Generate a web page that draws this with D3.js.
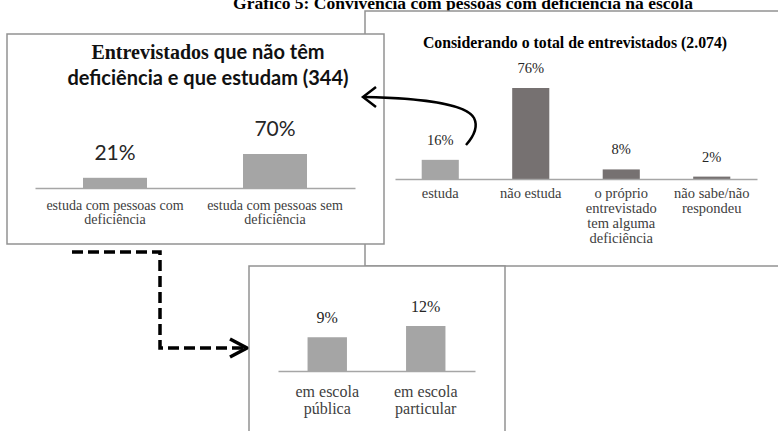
<!DOCTYPE html>
<html>
<head>
<meta charset="utf-8">
<script src="https://cdn.jsdelivr.net/npm/d3@7"></script>
<style>
  body { margin: 0; background: #fff; }
  svg { display: block; }
</style>
</head>
<body>
<script>
// data
var mainLabels = [["estuda"], ["não estuda"], ["o próprio", "entrevistado", "tem alguma", "deficiência"], ["não sabe/não", "respondeu"]];
var mainValues = [16, 76, 8, 2];
var mainColors = ["#a5a5a5", "#767171", "#767171", "#767171"];

var leftLabels = [["estuda com pessoas com", "deficiência"], ["estuda com pessoas sem", "deficiência"]];
var leftValues = [21, 70];

var bottomLabels = [["em escola", "pública"], ["em escola", "particular"]];
var bottomValues = [9, 12];

var width = 778, height = 431;
var serif = "'Liberation Serif', 'DejaVu Serif', serif";
var sans = "Lato, 'Open Sans', sans-serif";
var boxStroke = "#929292";

var svg = d3.select("body").append("svg")
    .attr("width", width)
    .attr("height", height);

// main title, cut at the top of the picture like in the reference
svg.append("text")
    .attr("x", 463).attr("y", 9)
    .attr("text-anchor", "middle")
    .style("font-family", serif).style("font-weight", "bold").style("font-size", "17.5px")
    .text("Gráfico 5: Convivência com pessoas com deficiência na escola");

// panels (big one behind, the others on top)
svg.append("rect").attr("x", 365).attr("y", 11).attr("width", 440).attr("height", 255)
    .attr("fill", "#fff").attr("stroke", boxStroke).attr("stroke-width", 1.5);

// draws a small bar chart: one category axis, bars and value labels
function barChart(g, labels, values, colors, opt) {
    var x = d3.scaleBand()
        .domain(d3.range(values.length))
        .range([opt.x0, opt.x1])
        .paddingInner(opt.pad).paddingOuter(opt.pad / 2);
    var y = d3.scaleLinear()
        .domain([0, opt.maxV])
        .range([opt.base, opt.base - opt.maxH]);

    g.selectAll("rect.bar").data(values).enter()
        .append("rect").attr("class", "bar")
        .attr("x", function(d, i) { return x(i); })
        .attr("y", function(d) { return y(d); })
        .attr("width", x.bandwidth())
        .attr("height", function(d) { return opt.base - y(d); })
        .attr("fill", function(d, i) { return colors[i]; });

    g.selectAll("text.val").data(values).enter()
        .append("text").attr("class", "val")
        .attr("x", function(d, i) { return x(i) + x.bandwidth() / 2; })
        .attr("y", function(d) { return y(d) - opt.valGap; })
        .attr("text-anchor", "middle")
        .style("font-family", opt.valFont).style("font-size", opt.valSize + "px")
        .attr("fill", "#262626")
        .text(function(d) { return d + "%"; });

    var axis = d3.axisBottom(x).tickSize(0).tickSizeOuter(0).tickFormat("");
    var ag = g.append("g").attr("transform", "translate(0," + opt.base + ")").call(axis);
    ag.select(".domain").attr("stroke", "#a6a6a6").attr("stroke-width", 1.5);
    ag.selectAll(".tick text").each(function(d) {
        var t = d3.select(this)
            .attr("y", opt.labOff).attr("dy", null)
            .attr("fill", "#404040")
            .style("font-family", serif).style("font-size", opt.labSize + "px");
        labels[d].forEach(function(line, k) {
            t.append("tspan").attr("x", 0).attr("dy", k ? opt.lineH : 0).text(line);
        });
    });
}

var gMain = svg.append("g");
gMain.append("text")
    .attr("x", 575).attr("y", 48).attr("text-anchor", "middle")
    .style("font-family", serif).style("font-weight", "bold").style("font-size", "15.8px")
    .text("Considerando o total de entrevistados (2.074)");
barChart(gMain, mainLabels, mainValues, mainColors, {
    x0: 395, x1: 757, pad: 0.59, base: 179, maxV: 76, maxH: 91,
    valGap: 15, valFont: serif, valSize: 14.5, labOff: 19, lineH: 15, labSize: 14.5
});

// left box
svg.append("rect").attr("x", 7).attr("y", 34).attr("width", 377).attr("height", 210)
    .attr("fill", "#fff").attr("stroke", boxStroke).attr("stroke-width", 1.5);
var gLeft = svg.append("g");
var t1 = gLeft.append("text").attr("x", 208).attr("y", 59).attr("text-anchor", "middle")
    .style("font-weight", "bold").style("font-size", "20px").attr("fill", "#111");
t1.append("tspan").style("font-family", serif).text("Entrevistados ");
t1.append("tspan").style("font-family", sans).text("que não têm");
gLeft.append("text").attr("x", 208).attr("y", 85).attr("text-anchor", "middle")
    .style("font-family", sans).style("font-weight", "bold").style("font-size", "20px")
    .attr("fill", "#111")
    .text("deficiência e que estudam (344)");
barChart(gLeft, leftLabels, leftValues, ["#a5a5a5", "#a5a5a5"], {
    x0: 35, x1: 355, pad: 0.6, base: 188, maxV: 70, maxH: 34,
    valGap: 18, valFont: sans, valSize: 21, labOff: 22, lineH: 14, labSize: 14
});

// curved arrow from "estuda" into the left box
svg.append("path")
    .attr("d", "M466,145 C474,136 478,126 474,118 C466,104 420,98 364,97")
    .attr("fill", "none").attr("stroke", "#000").attr("stroke-width", 2.5);
svg.append("path")
    .attr("d", "M376,87 L363,97 L376,107")
    .attr("fill", "none").attr("stroke", "#000").attr("stroke-width", 2.5);

// dashed arrow down to the bottom box
svg.append("path")
    .attr("d", "M72,252 H160 V348 H244")
    .attr("fill", "none").attr("stroke", "#000").attr("stroke-width", 3.5)
    .attr("stroke-dasharray", "11,5");
svg.append("path")
    .attr("d", "M230,339 L247,348 L230,357")
    .attr("fill", "none").attr("stroke", "#000").attr("stroke-width", 3.5);

// bottom box
svg.append("rect").attr("x", 249).attr("y", 266).attr("width", 256).attr("height", 200)
    .attr("fill", "#fff").attr("stroke", boxStroke).attr("stroke-width", 1.5);
var gBottom = svg.append("g");
barChart(gBottom, bottomLabels, bottomValues, ["#a5a5a5", "#a5a5a5"], {
    x0: 278, x1: 475, pad: 0.6, base: 371, maxV: 12, maxH: 45,
    valGap: 14, valFont: serif, valSize: 16, labOff: 26, lineH: 17, labSize: 16
});
</script>
</body>
</html>
